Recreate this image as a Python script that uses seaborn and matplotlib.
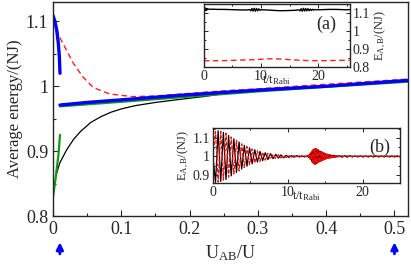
import numpy as np
import matplotlib
matplotlib.use("Agg")
import matplotlib.pyplot as plt
from matplotlib.ticker import MultipleLocator
import seaborn as sns

# ---- main panel data (U_AB/U vs average energy) ----
black_u = [0.005, 0.01, 0.02, 0.03, 0.04, 0.055, 0.07, 0.085, 0.1, 0.12, 0.15, 0.18, 0.22, 0.26]
black_e = [0.865, 0.882, 0.902, 0.918, 0.93, 0.944, 0.953, 0.96, 0.965, 0.97, 0.975, 0.979, 0.984, 0.99]

red_u = [0.0, 0.01, 0.02, 0.03, 0.044, 0.059, 0.083, 0.117, 0.15, 0.2, 0.25, 0.3, 0.4, 0.52]
red_e = [1.101, 1.075, 1.055, 1.035, 1.014, 0.998, 0.988, 0.984, 0.985, 0.989, 0.993, 0.996, 1.003, 1.011]

green1_u = [0.0, 0.004, 0.008, 0.0102]
green1_e = [0.829, 0.86, 0.895, 0.925]
green2_u = [0.0102, 0.1, 0.2, 0.3, 0.4, 0.52]
green2_e = [0.969, 0.976, 0.984, 0.992, 0.999, 1.007]

blue1_u = [0.0, 0.003, 0.0055, 0.0078, 0.0093, 0.0102]
blue1_e = [1.109, 1.099, 1.086, 1.066, 1.045, 1.02]
blue2_u = [0.0102, 0.05, 0.1, 0.186, 0.3, 0.4, 0.52]
blue2_e = [0.971, 0.975, 0.979, 0.986, 0.994, 1.0, 1.009]

arrow_u = [0.01, 0.5]

# ---- inset (a) ----
a_t = [0.0, 0.1, 0.2, 0.3, 0.4, 0.5, 0.6, 0.8,
       1.5, 2.5, 3.5, 4.5, 5.5, 6.5, 7.5,
       8.0, 8.2, 8.4, 8.6, 8.8, 9.0, 9.2, 9.4, 9.6, 9.8, 10.0,
       11.0, 12.0, 13.0, 14.0, 15.0, 16.0,
       16.6, 16.8, 17.0, 17.2, 17.4, 17.6, 17.8, 18.0, 18.2, 18.4, 18.6, 18.8, 19.0, 19.2, 19.4,
       20.0, 21.0, 22.0, 23.0, 24.0, 25.0, 25.5]
a_black = [1.13, 1.112, 1.128, 1.114, 1.126, 1.116, 1.124, 1.121,
           1.121, 1.12, 1.12, 1.119, 1.118, 1.117, 1.117,
           1.119, 1.112, 1.125, 1.111, 1.126, 1.11, 1.125, 1.112, 1.123, 1.115, 1.118,
           1.117, 1.115, 1.113, 1.113, 1.114, 1.115,
           1.118, 1.112, 1.124, 1.11, 1.126, 1.111, 1.125, 1.112, 1.124, 1.113, 1.122, 1.114, 1.121, 1.116, 1.119,
           1.118, 1.119, 1.12, 1.12, 1.119, 1.118, 1.119]
a_red_t = [0, 2, 4, 6, 8, 10, 11, 12, 13, 14, 16, 18, 20, 22, 24, 25.5]
a_red = [0.835, 0.835, 0.836, 0.838, 0.84, 0.843, 0.845, 0.846, 0.845, 0.843,
         0.839, 0.836, 0.835, 0.836, 0.837, 0.838]

# ---- inset (b) ----
b_t1 = np.linspace(0, 10.15, 30)
b_black1 = [1.0, 0.86, 1.138, 0.865, 1.13, 0.875, 1.113, 0.895, 1.095, 0.913,
            1.078, 0.932, 1.06, 0.947, 1.046, 0.96, 1.036, 0.97, 1.027, 0.977,
            1.02, 0.983, 1.015, 0.988, 1.011, 0.991, 1.008, 0.993, 1.006, 0.995]
b_red1 = [1.0, 1.135, 0.862, 1.135, 0.872, 1.125, 0.888, 1.105, 0.905, 1.087,
          0.922, 1.068, 0.94, 1.053, 0.955, 1.04, 0.965, 1.03, 0.973, 1.023,
          0.98, 1.017, 0.985, 1.012, 0.989, 1.009, 0.992, 1.007, 0.994, 1.005]
b_t2 = np.linspace(10.5, 12.6, 7)
b_black2 = [1.004, 0.996, 1.004, 0.997, 1.003, 0.997, 1.003]
b_red2 = [0.996, 1.004, 0.996, 1.003, 0.997, 1.003, 0.997]
b_t3 = np.linspace(12.7, 16.6, 40)
b_black3 = [1.004, 0.994, 1.01, 0.985, 1.02, 0.974, 1.032, 0.963, 1.04, 0.958,
            1.042, 0.96, 1.038, 0.965, 1.035, 0.97, 1.03, 0.974, 1.026, 0.978,
            1.022, 0.982, 1.018, 0.985, 1.015, 0.988, 1.012, 0.99, 1.01, 0.992,
            1.008, 0.993, 1.007, 0.994, 1.006, 0.995, 1.005, 0.996, 1.004, 0.997]
b_red3 = [0.996, 1.006, 0.99, 1.015, 0.98, 1.026, 0.968, 1.037, 0.96, 1.043,
          0.957, 1.042, 0.962, 1.036, 0.966, 1.031, 0.971, 1.027, 0.975, 1.023,
          0.979, 1.019, 0.983, 1.016, 0.986, 1.013, 0.989, 1.011, 0.99, 1.009,
          0.992, 1.008, 0.993, 1.007, 0.994, 1.006, 0.995, 1.005, 0.996, 1.004]
b_t4 = np.linspace(16.9, 25.0, 24)
b_black4 = [1.004, 0.996, 1.004, 0.996, 1.004, 0.997, 1.003, 0.997, 1.003, 0.997,
            1.003, 0.997, 1.003, 0.997, 1.003, 0.997, 1.003, 0.997, 1.003, 0.997,
            1.003, 0.997, 1.003, 0.998]
b_red4 = [0.996, 1.004, 0.996, 1.004, 0.996, 1.003, 0.997, 1.003, 0.997, 1.003,
          0.997, 1.003, 0.997, 1.003, 0.997, 1.003, 0.997, 1.003, 0.997, 1.003,
          0.997, 1.003, 0.997, 1.002]

b_t = np.concatenate([b_t1, b_t2, b_t3, b_t4])
b_black = np.concatenate([b_black1, b_black2, b_black3, b_black4])
b_red = np.concatenate([b_red1, b_red2, b_red3, b_red4])

sns.set_style("ticks")
plt.rcParams['font.family'] = ['Liberation Serif', 'DejaVu Serif']
plt.rcParams['mathtext.fontset'] = 'custom'
plt.rcParams['mathtext.rm'] = 'Liberation Serif'
plt.rcParams['mathtext.it'] = 'Liberation Serif:italic'
plt.rcParams['axes.linewidth'] = 1.0

fig = plt.figure(figsize=(4.11, 2.67), dpi=100)
ax = fig.add_axes([0.129, 0.191, 0.864, 0.802])

dash = (0, (4, 2.5))
sns.lineplot(x=black_u, y=black_e, ax=ax, color='black', lw=0.9, sort=False)
sns.lineplot(x=red_u, y=red_e, ax=ax, color='#ff2020', lw=1.0, linestyle=dash, sort=False)
sns.lineplot(x=green1_u, y=green1_e, ax=ax, color='#109a10', lw=1.6, sort=False)
sns.lineplot(x=green2_u, y=green2_e, ax=ax, color='#109a10', lw=1.6, sort=False)
sns.lineplot(x=blue1_u, y=blue1_e, ax=ax, color='#0000ff', lw=2.4, sort=False)
sns.lineplot(x=blue2_u, y=blue2_e, ax=ax, color='#0000ff', lw=2.4, sort=False)

ax.set_xlim(0, 0.52)
ax.set_ylim(0.8, 1.13)
ax.set_xticks([0, 0.1, 0.2, 0.3, 0.4, 0.5])
ax.set_xticklabels(['0', '0.1', '0.2', '0.3', '0.4', '0.5'])
ax.set_yticks([0.8, 0.9, 1.0, 1.1])
ax.set_yticklabels(['0.8', '0.9', '1', '1.1'])
ax.xaxis.set_minor_locator(MultipleLocator(0.05))
ax.yaxis.set_minor_locator(MultipleLocator(0.05))
ax.tick_params(which='both', direction='in', labelsize=13, width=0.8)
ax.tick_params(which='major', length=4)
ax.tick_params(which='minor', length=2)
ax.set_xlabel(r'$\mathrm{U_{AB}/U}$', fontsize=13, labelpad=4)
ax.set_ylabel('Average energy/(NJ)', fontsize=12, labelpad=2)

for u in arrow_u:
    ax.annotate('', xy=(u, -0.11), xytext=(u, -0.19),
                xycoords=('data', 'axes fraction'), annotation_clip=False,
                arrowprops=dict(arrowstyle='-|>', color='#0000ff', lw=2.0, mutation_scale=10))

# inset (a)
axa = fig.add_axes([0.496, 0.749, 0.355, 0.236])
sns.lineplot(x=a_t, y=a_black, ax=axa, color='black', lw=1.0, sort=False)
sns.lineplot(x=a_red_t, y=a_red, ax=axa, color='#ff2020', lw=1.0, linestyle=dash, sort=False)
axa.set_xlim(0, 25.5)
axa.set_ylim(0.8, 1.15)
axa.set_xticks([0, 10, 20])
axa.set_yticks([0.8, 0.9, 1.0, 1.1])
axa.set_yticklabels(['0.8', '0.9', '1', '1.1'])
axa.xaxis.set_minor_locator(MultipleLocator(5))
axa.yaxis.set_minor_locator(MultipleLocator(0.05))
axa.tick_params(which='both', direction='in', top=True, right=True, left=True,
                labelleft=False, labelright=True, labelsize=10, width=0.7, pad=2)
axa.tick_params(which='major', length=3)
axa.tick_params(which='minor', length=1.5)
axa.yaxis.set_label_position('right')
axa.set_ylabel(r'$\mathrm{E_{A,B}/(NJ)}$', fontsize=9, labelpad=2)
axa.set_xlabel(r'$\mathrm{t/t_{Rabi}}$', fontsize=9, labelpad=-7)
axa.text(0.84, 0.67, '(a)', transform=axa.transAxes, fontsize=13, ha='center', va='center')

# inset (b)
axb = fig.add_axes([0.518, 0.315, 0.455, 0.206])
sns.lineplot(x=b_t, y=b_black, ax=axb, color='black', lw=0.9, sort=False)
sns.lineplot(x=b_t, y=b_red, ax=axb, color='#ff0000', lw=0.9, linestyle=(0, (3, 1.5)), sort=False)
axb.set_xlim(0, 25)
axb.set_ylim(0.857, 1.154)
axb.set_xticks([0, 10, 20])
axb.set_yticks([0.9, 1.0, 1.1])
axb.set_yticklabels(['0.9', '1', '1.1'])
axb.xaxis.set_minor_locator(MultipleLocator(5))
axb.yaxis.set_minor_locator(MultipleLocator(0.05))
axb.tick_params(which='both', direction='in', top=True, right=True, labelsize=10, width=0.7, pad=2)
axb.tick_params(which='major', length=3)
axb.tick_params(which='minor', length=1.5)
axb.set_ylabel(r'$\mathrm{E_{A,B}/(NJ)}$', fontsize=9, labelpad=1)
axb.set_xlabel(r'$\mathrm{t/t_{Rabi}}$', fontsize=9, labelpad=-7)
axb.text(0.89, 0.65, '(b)', transform=axb.transAxes, fontsize=13, ha='center', va='center')

fig.savefig('out.png', dpi=100)
